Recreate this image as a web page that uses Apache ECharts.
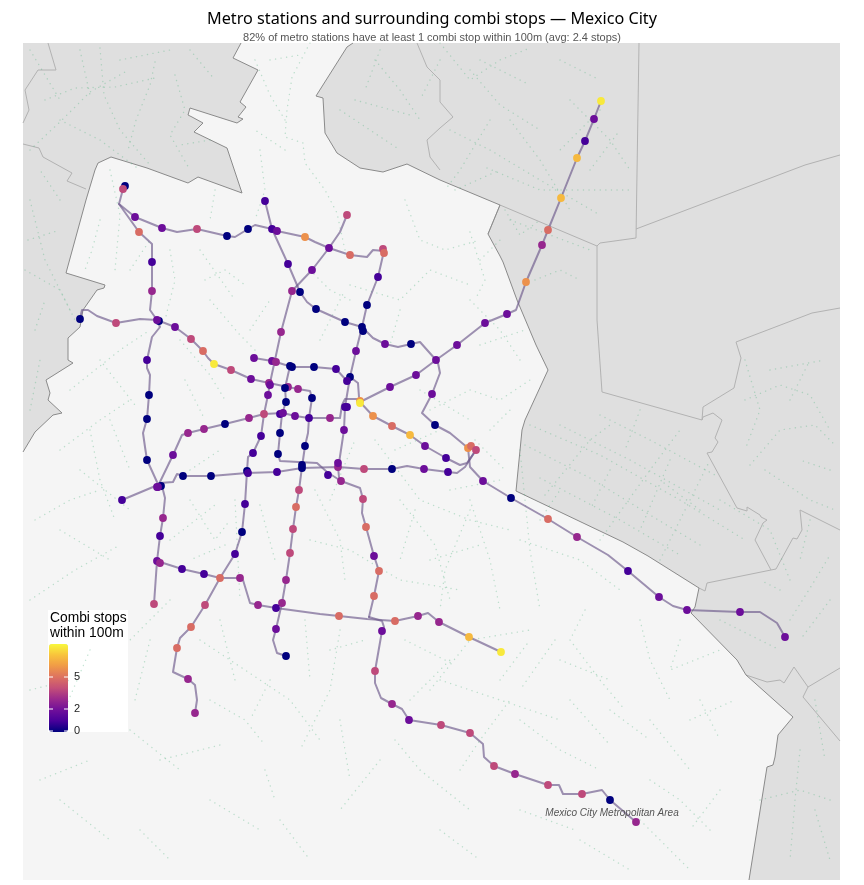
<!DOCTYPE html>
<html><head><meta charset="utf-8">
<style>html,body{margin:0;padding:0;background:#fff}#c{width:864px;height:885px}</style>
<script src="https://cdn.jsdelivr.net/npm/echarts@6/dist/echarts.min.js"></script>
</head><body><div id="c"></div>
<script>
// Mexico City outline
const cityOutline = [[241,43],[233,58],[258,70],[240,102],[246,107],[238,117],[243,119],[237,123],[190,108],[188,115],[192,117],[203,123],[194,132],[227,148],[242,193],[198,177],[188,183],[147,168],[111,157],[98,163],[95,170],[86,200],[66,273],[105,285],[104,288],[97,290],[90,300],[83,310],[80,327],[68,338],[68,360],[73,363],[46,380],[50,393],[48,400],[62,413],[53,415],[35,432],[23,452],[23,880],[749,880],[767,767],[773,765],[775,757],[778,735],[793,717],[746,675],[737,660],[691,613],[695,607],[699,588],[648,556],[623,542],[516,491],[522,430],[525,420],[548,370],[536,345],[517,300],[503,262],[500,256],[488,234],[500,205],[440,180],[407,164],[383,172],[360,168],[337,153],[325,133],[323,98],[316,96],[347,47],[353,43]];
// parts of that outline that are drawn as a border (the picture's edges are not)
const cityBorderA = cityOutline.slice(0,39);
const cityBorderB = cityOutline.slice(40);
// neighbouring municipality borders
const borderLines = [
 [[48,43],[56,70],[38,70],[25,90],[29,110],[23,123]],
 [[23,144],[39,148],[43,157],[72,173],[67,181],[86,189]],
 [[417,43],[427,67],[440,80],[440,102],[453,117],[440,128],[427,140],[430,157],[440,170]],
 [[488,234],[500,205],[597,246]],
 [[639,43],[636,238],[600,243],[597,246],[597,320],[602,392],[702,420],[703,407],[734,388],[741,358],[736,342],[812,313],[840,308]],
 [[636,229],[805,165],[840,155]],
 [[702,420],[703,417],[713,413],[722,420],[715,438],[718,442],[712,452],[707,453],[737,508],[747,511],[747,507],[760,515],[761,517],[767,520],[763,523],[755,540],[771,570],[776,569],[793,538],[797,539],[802,530],[800,510],[840,530]],
 [[771,570],[707,583],[705,591],[699,588]],
 [[746,675],[767,682],[780,680],[784,683],[794,667],[808,687],[803,697],[840,741]],
 [[808,687],[840,668]]
];
// combi routes, traced as dotted paths
const combiRoutes = [
 [[100,48],[104,95],[120,130],[150,165]],[[45,100],[75,88],[115,87],[155,78]],[[155,62],[150,85],[136,120],[128,150]],
 [[30,150],[62,120],[90,92],[125,72]],[[60,120],[100,140],[140,170]],[[175,75],[185,110],[170,135],[190,170]],
 [[30,200],[45,260],[70,310]],[[25,270],[60,290],[75,320]],[[35,330],[45,300]],
 [[310,43],[292,77],[287,110],[285,137],[303,143],[305,163],[325,190],[337,213],[345,250]],
 [[255,60],[270,95],[285,120]],[[260,150],[265,190],[255,220]],[[375,60],[400,90],[420,120]],[[340,110],[370,130],[400,150]],
 [[380,50],[365,90]],[[470,70],[500,105],[540,130]],[[450,130],[490,150],[540,180],[600,215]],[[487,168],[540,190],[633,190]],
 [[510,120],[540,160],[570,210]],[[440,43],[470,80],[500,60],[530,48]],[[490,120],[460,170],[445,190]],[[570,100],[610,140],[630,170]],
 [[505,210],[520,235],[540,220]],[[535,280],[560,270],[580,280]],[[480,260],[500,240]],[[470,232],[485,280],[475,300]],
 [[100,220],[92,250],[85,270]],[[110,170],[120,215],[115,270]],[[170,250],[175,280],[165,320]],[[205,280],[225,270],[245,285]],
 [[215,190],[210,220]],[[350,285],[400,300],[430,270],[470,285]],[[405,200],[420,240],[445,250],[480,240]],[[310,270],[330,290],[350,300]],
 [[70,390],[120,350],[150,330]],[[60,450],[100,420],[130,400]],[[180,340],[210,375],[225,400]],[[100,360],[135,405]],[[35,520],[70,500],[100,490]],
 [[30,600],[75,570],[120,545]],[[90,430],[100,480],[115,520]],[[190,470],[220,450]],[[190,500],[215,540],[230,520]],
 [[470,300],[500,330],[520,360]],[[430,410],[470,390],[500,400],[530,380]],[[490,430],[510,410]],[[470,500],[490,560],[500,610]],
 [[375,440],[420,500],[470,520],[510,530]],[[315,490],[340,540],[345,580]],[[235,500],[238,560],[240,600]],[[260,505],[275,560]],
 [[310,540],[350,550],[400,580],[460,590]],[[400,500],[435,545],[450,600]],[[470,510],[445,570],[440,610]],[[305,620],[310,680]],
 [[520,450],[530,550],[540,610]],[[520,540],[580,560],[620,590]],[[585,610],[570,640],[600,680],[625,710]],[[640,620],[650,660],[670,700]],
 [[680,640],[670,670],[720,650]],[[200,640],[245,670],[290,700],[320,740]],[[220,620],[235,680]],[[340,630],[330,690],[300,750]],
 [[430,690],[470,640],[530,630]],[[395,740],[420,770],[470,810]],[[520,720],[560,750],[600,770]],[[440,680],[500,700],[560,720]],
 [[460,770],[480,740],[510,700]],[[650,780],[680,800],[710,830]],[[30,690],[70,680]],[[40,780],[90,760]],[[160,760],[220,745]],
 [[265,770],[275,800]],[[560,660],[610,680]],[[640,820],[670,850],[690,870]],
 [[525,445],[590,478],[650,515],[700,545]],[[530,425],[600,455],[680,500],[745,540]],[[560,425],[630,460],[720,510]],[[600,415],[650,440],[715,475]],
 [[540,478],[620,520],[680,555]],[[600,540],[650,470],[680,430]],[[660,560],[690,500],[710,460]],[[545,495],[590,440],[610,425]],
 [[745,400],[780,385],[810,395],[830,430]],[[750,465],[780,430],[815,425],[835,445]],[[745,360],[760,410],[745,450]],[[765,470],[810,500],[835,510]],
 [[800,750],[795,800],[790,860]],[[760,800],[800,790],[830,800]],[[815,700],[825,760]],[[790,620],[815,580],[830,555]],[[720,620],[780,650]],
 [[720,500],[770,530],[790,580]],[[810,520],[800,560]],
 [[170,540],[215,505]],[[60,530],[110,560]],[[170,600],[130,640]],[[225,545],[190,560]],[[330,500],[355,440]],[[395,450],[440,430]],[[320,340],[345,290]],[[400,310],[390,345]],
 [[210,300],[240,335],[255,350]],[[185,380],[205,420]],[[110,420],[130,470]],[[80,470],[130,510]],[[200,250],[235,300]],[[130,270],[150,240]],[[250,330],[270,300]],
 [[420,390],[470,420]],[[480,345],[525,330]],[[475,440],[505,470]],[[450,490],[500,480]],[[415,510],[400,560]],[[430,560],[480,545]],[[330,650],[365,640]],[[405,640],[455,665]],
 [[210,700],[245,720],[265,745]],[[270,680],[250,720]],[[150,640],[135,700]],[[90,650],[60,720]],[[130,730],[180,770]],[[60,800],[110,840]],[[210,800],[260,830]],[[340,720],[350,780]],
 [[380,760],[340,810]],[[410,700],[450,660]],[[500,680],[530,640]],[[555,640],[520,690]],[[610,710],[650,740]],[[570,700],[610,745]],[[700,700],[720,740]],[[650,720],[690,770]],
 [[690,720],[735,700]],[[520,810],[575,830]],[[440,830],[480,860]],[[280,820],[310,860]],[[140,830],[170,860]],[[720,790],[690,830]],[[580,840],[630,870]],
 [[270,60],[300,55]],[[285,150],[255,130]],[[80,50],[90,95]],[[30,50],[60,100]],[[190,50],[215,80]],[[120,60],[170,50]],[[210,140],[180,145]],
 [[355,100],[410,115]],[[440,60],[420,100]],[[560,60],[600,80]],[[480,60],[530,85]],[[600,110],[560,150]],[[455,190],[500,170]],[[590,170],[620,130]],[[510,220],[590,250]],
 [[30,410],[40,360]],[[28,240],[60,230]],[[60,200],[40,170]],[[610,470],[590,510]],[[640,410],[625,450]],[[670,460],[640,530]],[[540,520],[560,490]],[[700,510],[660,480]],
 [[780,590],[760,580]],[[830,470],[800,460]],[[790,400],[810,360]],[[770,370],[825,360]],[[830,600],[800,640]],[[815,810],[830,860]]
];
// metro lines
const metroLines = [
 [[125,186],[123,189],[119,204],[135,217],[162,228],[177,232],[197,229],[227,236],[235,237],[248,229],[255,225],[272,229],[277,231],[305,237],[315,242],[329,248],[350,255],[367,257],[373,250],[384,251],[378,277],[367,305],[362,327],[356,351],[350,377],[345,407],[344,430],[339,463],[338,467],[339,477],[341,481]],
 [[119,204],[139,232],[152,244],[152,262],[152,291],[150,310],[157,320],[160,327],[152,337],[147,360],[147,368],[150,375],[149,395],[147,419],[143,433],[145,447],[147,460],[157,482],[159,487],[163,490],[165,498],[163,518],[160,536],[157,561],[154,604]],
 [[80,319],[82,310],[88,310],[97,316],[116,323],[140,319],[157,320],[175,327],[191,339],[203,351],[208,358],[214,364],[231,370],[251,379],[269,383],[288,387],[298,389],[310,391],[312,398],[309,418],[308,433],[305,446],[302,467],[299,490],[296,507],[293,529],[290,553],[286,580],[282,603],[276,629],[273,640],[277,653],[286,656]],
 [[265,201],[272,229],[288,264],[300,292],[307,302],[316,309],[345,322],[362,327],[373,338],[385,344],[398,347],[411,344],[420,342],[436,360]],
 [[601,101],[594,119],[585,141],[577,158],[561,198],[548,230],[542,245],[526,282],[516,310],[507,314],[485,323],[457,345],[436,360],[416,375],[390,387],[360,402],[373,416],[392,426],[410,435],[425,446],[446,458],[460,465],[467,463],[476,450]],
 [[436,360],[438,363],[440,373],[432,394],[422,413],[435,425],[450,433],[468,448],[470,467],[483,481],[511,498],[548,519],[577,537],[608,555],[628,571],[659,597],[673,606],[687,610],[740,612],[760,612],[777,623],[785,637]],
 [[122,500],[153,487],[160,483],[173,482],[177,474],[183,476],[211,476],[247,473],[277,472],[302,468],[338,467],[364,469],[392,469],[407,466],[424,469],[448,472],[457,473],[465,467],[476,450]],
 [[158,486],[173,455],[182,435],[188,433],[204,429],[225,424],[249,418],[264,414],[283,413],[295,416],[309,418],[330,418],[340,418],[342,405],[345,399],[360,399]],
 [[254,358],[272,361],[276,362],[292,367],[314,367],[336,369],[347,381],[350,377],[358,383],[359,397]],
 [[292,291],[281,332],[270,383],[268,395],[264,414],[261,436],[253,453],[248,457],[247,471],[245,504],[242,532],[235,554],[220,578],[205,605],[191,627],[180,638],[177,648],[173,672],[188,679],[195,685],[197,700],[195,713]],
 [[290,366],[285,388],[286,402],[282,414],[280,433],[278,454],[280,461],[317,463],[327,472],[341,481],[360,488],[363,499],[362,513],[366,527],[374,556],[379,571],[374,596],[369,617]],
 [[369,617],[382,621],[384,627],[382,631],[375,671],[375,683],[381,698],[392,704],[402,709],[409,720],[441,725],[470,733],[483,744],[484,757],[494,766],[515,774],[548,785],[559,785],[563,794],[582,794],[602,790],[610,800],[636,822]],
 [[157,561],[182,569],[204,574],[220,578],[240,578],[243,580],[250,603],[258,605],[276,608],[320,614],[339,616],[367,619],[395,621],[418,616],[428,613],[439,622],[469,637],[501,652]],
 [[292,291],[312,270],[329,248],[340,232],[347,215]]
];
// stations: position, combi stops within 100 m
const metroStations = [
 [125,186,0],[123,189,4],[135,217,2],[162,228,2],[197,229,4],[227,236,0],[248,229,0],[272,229,1],[277,231,2],[305,237,6],[329,248,2],[350,255,5],[383,249,4],[384,253,5],
 [139,232,5],[152,262,1],[152,291,3],[159,321,0],[157,320,2],[147,360,1],[149,395,0],[147,419,0],[147,460,0],[161,486,0],[157,487,2],[158,487,2],
 [80,319,0],[116,323,4],[175,327,2],[191,339,4],[203,351,5],[214,364,8],[231,370,4],[251,379,2],[269,383,3],[270,385,2],[288,387,3],[298,389,3],[312,398,0],[309,418,1],[305,446,0],[302,465,0],[302,468,0],[299,490,4],[296,507,5],[293,529,4],[290,553,4],[286,580,3],[282,603,3],[276,608,1],[276,629,2],[286,656,0],
 [265,201,1],[288,264,1],[292,291,3],[300,292,0],[316,309,0],[345,322,0],[362,327,0],[363,331,0],[385,344,2],[411,344,0],[436,360,2],[347,215,4],[312,270,2],
 [601,101,8],[594,119,2],[585,141,1],[577,158,7],[561,198,7],[548,230,5],[542,245,3],[526,282,6],[507,314,2],[485,323,2],[457,345,2],[416,375,2],[390,387,2],[360,401,6],[360,403,8],[373,416,6],[392,426,5],[410,435,7],[425,446,2],[446,458,1],[468,448,6],[471,446,5],[476,450,4],
 [432,394,2],[435,425,0],[483,481,2],[511,498,0],[548,519,5],[577,537,3],[628,571,1],[659,597,2],[687,610,2],[740,612,2],[785,637,2],
 [122,500,1],[183,476,0],[211,476,0],[247,471,0],[248,473,1],[277,472,1],[338,467,3],[364,469,4],[392,469,0],[424,469,2],[448,472,1],
 [173,455,2],[188,433,3],[204,429,3],[225,424,0],[249,418,3],[264,414,4],[280,414,1],[283,413,2],[295,416,2],[330,418,3],
 [345,407,1],[347,407,1],[344,430,2],[338,463,2],[341,481,3],[350,377,0],[347,381,1],[378,277,1],[367,305,0],[356,351,2],
 [254,358,2],[272,361,2],[276,362,3],[290,366,0],[292,367,0],[314,367,0],[336,369,1],
 [281,332,3],[268,395,2],[261,436,1],[253,453,1],[245,504,1],[242,532,0],[235,554,1],[220,578,5],[205,605,4],[191,627,5],[177,648,5],[188,679,3],[195,713,3],
 [285,388,0],[286,402,0],[280,433,0],[278,454,0],[328,475,1],[363,499,4],[366,527,5],[374,556,2],[379,571,5],[374,596,5],
 [382,631,2],[375,671,4],[392,704,3],[409,720,2],[441,725,4],[470,733,4],[494,766,4],[515,774,3],[548,785,4],[582,794,4],[610,800,0],[636,822,3],
 [157,561,2],[160,563,3],[182,569,1],[204,574,1],[240,578,3],[258,605,3],[339,616,5],[395,621,5],[418,616,3],[439,622,3],[469,637,7],[501,652,8],
 [163,518,3],[160,536,1],[154,604,4]
];
const colorStops = ['#00007e','#48009a','#6f0f9a','#9b2a8c','#c44f78','#dd7260','#f09a47','#f8c33c','#f8f83c'];
const legendTicks = [['0',731],['2',709],['5',677]];

const chart = echarts.init(document.getElementById('c'), null, {renderer:'canvas'});
const toLines = a => a.map(coords => ({coords}));
chart.setOption({
  animation:false,
  backgroundColor:'#fff',
  title:[
    {text:'Metro stations and surrounding combi stops — Mexico City',left:427,top:6,textAlign:'center',
     textStyle:{fontFamily:'Noto Sans',fontSize:16.2,fontWeight:'normal',color:'#000'}},
    {text:'82% of metro stations have at least 1 combi stop within 100m (avg: 2.4 stops)',left:427,top:27,textAlign:'center',
     textStyle:{fontFamily:'Liberation Sans',fontSize:11,fontWeight:'normal',color:'#555'}}
  ],
  grid:{left:23,top:43,width:817,height:837,show:true,backgroundColor:'#dfdfdf',borderWidth:0},
  xAxis:{type:'value',min:23,max:840,show:false},
  yAxis:{type:'value',min:43,max:880,inverse:true,show:false},
  visualMap:{type:'continuous',seriesIndex:5,dimension:2,min:0,max:8.3,left:49,top:644,itemWidth:19,itemHeight:88,
    text:null,calculable:false,hoverLink:false,realtime:false,inRange:{color:colorStops},padding:0,borderWidth:0},
  series:[
    {type:'custom',coordinateSystem:'cartesian2d',silent:true,z:1,data:[[0,0]],
     renderItem:(p,api)=>({type:'polygon',shape:{points:cityOutline.map(q=>api.coord(q))},
       style:{fill:'#f5f5f5'}})},
    {type:'lines',coordinateSystem:'cartesian2d',polyline:true,silent:true,z:2,data:toLines(borderLines),
     lineStyle:{color:'#b2b2b2',width:1,opacity:1}},
    {type:'lines',coordinateSystem:'cartesian2d',polyline:true,silent:true,z:2,data:toLines([cityBorderA,cityBorderB]),
     lineStyle:{color:'#8a8a8a',width:1,opacity:1}},
    {type:'lines',coordinateSystem:'cartesian2d',polyline:true,silent:true,z:3,data:toLines(combiRoutes),
     lineStyle:{color:'#5fb88a',width:1.4,opacity:.38,type:[0.1,5.5],cap:'round'}},
    {type:'lines',coordinateSystem:'cartesian2d',polyline:true,silent:true,z:4,data:toLines(metroLines),
     lineStyle:{color:'#6e5a8c',width:2,opacity:.66,cap:'round',join:'round'}},
    {type:'scatter',coordinateSystem:'cartesian2d',silent:true,z:5,symbolSize:7.8,data:metroStations,itemStyle:{opacity:1}}
  ],
  graphic:[
    {type:'rect',z:3,zlevel:0,shape:{x:48,y:610,width:80,height:122},style:{fill:'#fff'}},
    {type:'text',z:20,x:50,y:611,style:{text:'Combi stops\nwithin 100m',font:'13.8px "Liberation Sans"',fill:'#000',lineHeight:15}},
    ...legendTicks.flatMap(([t,y])=>[
      {type:'line',z:20,shape:{x1:49,y1:y,x2:53,y2:y},style:{stroke:'#fff',lineWidth:1}},
      {type:'line',z:20,shape:{x1:64,y1:y,x2:68,y2:y},style:{stroke:'#fff',lineWidth:1}},
      {type:'text',z:20,x:74,y:y-6,style:{text:t,font:'11px "Liberation Sans"',fill:'#222'}}
    ]),
    {type:'text',z:20,x:612,y:808,style:{text:'Mexico City Metropolitan Area',font:'italic 10px "Liberation Sans"',fill:'#555',textAlign:'center'}}
  ]
});
</script></body></html>
